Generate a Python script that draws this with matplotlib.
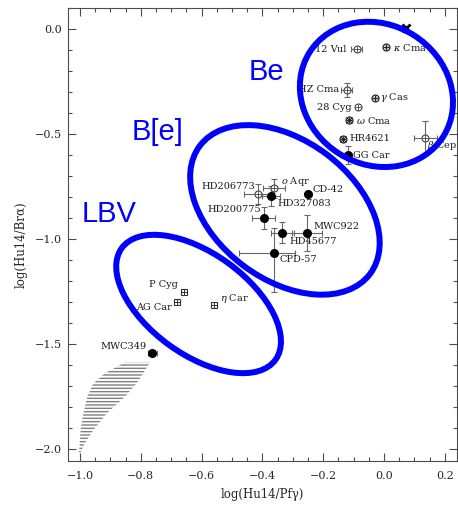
import matplotlib
matplotlib.use("Agg")
import matplotlib.pyplot as plt
from matplotlib.patches import Ellipse
from matplotlib.transforms import ScaledTranslation
from matplotlib.ticker import MultipleLocator

plt.rcParams["font.family"] = "DejaVu Serif"
plt.rcParams["mathtext.fontset"] = "dejavuserif"

# stars: log(Hu14/Pfg), log(Hu14/Bra)
names = ["12 Vul", r"$\kappa$ Cma", "HZ Cma", r"$\gamma$ Cas", "28 Cyg", r"$\omega$ Cma",
         "HR4621", r"$\beta$ Cep", "GG Car",
         r"$o$ Aqr", "HD206773", "HD327083", "CD-42", "HD200775", "HD45677", "MWC922", "CPD-57",
         "P Cyg", "AG Car", r"$\eta$ Car", "MWC349"]
symbol = ["open", "oplus", "open", "oplus", "open", "ostar", "ostar", "open", "dot",
          "open", "open", "dot", "dot", "dot", "dot", "dot", "dot",
          "box", "box", "box", "dot"]
x_val = [-0.090, 0.007, -0.123, -0.030, -0.087, -0.115, -0.134, 0.135, -0.117,
         -0.361, -0.416, -0.371, -0.251, -0.396, -0.335, -0.253, -0.362,
         -0.658, -0.682, -0.559, -0.762]
y_val = [-0.094, -0.086, -0.289, -0.326, -0.371, -0.432, -0.522, -0.516, -0.599,
         -0.757, -0.784, -0.794, -0.786, -0.897, -0.969, -0.971, -1.067,
         -1.250, -1.297, -1.313, -1.543]
xerr_lo = [0.018, 0, 0.019, 0, 0, 0, 0, 0.038, 0,
           0.036, 0.045, 0.030, 0, 0.039, 0.038, 0.049, 0.114,
           0, 0, 0, 0.016]
xerr_hi = [0.018, 0, 0.019, 0, 0, 0, 0, 0.038, 0,
           0.036, 0.045, 0.030, 0, 0.039, 0.038, 0.049, 0.069,
           0, 0, 0, 0.016]
yerr_lo = [0, 0, 0.033, 0, 0, 0, 0, 0.081, 0.043,
           0.044, 0.048, 0.049, 0, 0.052, 0.051, 0.087, 0.183,
           0, 0, 0, 0.010]
yerr_hi = [0, 0, 0.033, 0, 0, 0, 0, 0.081, 0.043,
           0.044, 0.048, 0.049, 0, 0.052, 0.051, 0.087, 0.119,
           0, 0, 0, 0.010]

# star hidden under the top of the Be ring
hidden_x = [0.072]
hidden_y = [0.005]

# hatched region (bottom left), left/right edges per row
hatch_y = [-1.586, -1.638, -1.686, -1.749, -1.829, -1.908, -1.971, -2.019]
hatch_left = [-0.852, -0.918, -0.956, -0.976, -0.989, -0.998, -1.001, -1.003]
hatch_right = [-0.770, -0.792, -0.814, -0.852, -0.912, -0.956, -0.984, -1.000]

# label offsets in pixels (dx, dy with y down) and alignment
label_pos = {
    "12 Vul": (-10, 0, "right"), r"$\kappa$ Cma": (7, 0, "left"),
    "HZ Cma": (-8, 0, "right"), r"$\gamma$ Cas": (5, 0, "left"),
    "28 Cyg": (-6, 0, "right"), r"$\omega$ Cma": (7, 0, "left"),
    "HR4621": (6, 0, "left"), r"$\beta$ Cep": (2, 8, "left"),
    "GG Car": (5, 0, "left"), r"$o$ Aqr": (7, -7, "left"),
    "HD206773": (-2, -7, "right"), "HD327083": (6, 7, "left"),
    "CD-42": (5, -5, "left"), "HD200775": (-3, -8, "right"),
    "HD45677": (7, 9, "left"), "MWC922": (6, -7, "left"),
    "CPD-57": (6, 6, "left"), "P Cyg": (-6, -7, "right"),
    "AG Car": (-5, 6, "right"), r"$\eta$ Car": (6, -7, "left"),
    "MWC349": (-6, -7, "right"),
}

fig = plt.figure(figsize=(4.58, 5.11), dpi=100)
ax = fig.add_axes([68 / 458, 1 - 461 / 511, (457 - 68) / 458, (461 - 8) / 511])
ax.set_xlim(-1.0395, 0.240)
ax.set_ylim(-2.0557, 0.1014)

ax.fill_betweenx(hatch_y, hatch_left, hatch_right, facecolor="none",
                 edgecolor="0.5", hatch="-----", linewidth=0)

for i, name in enumerate(names):
    xe = None if xerr_lo[i] == 0 else [[xerr_lo[i]], [xerr_hi[i]]]
    ye = None if yerr_lo[i] == 0 else [[yerr_lo[i]], [yerr_hi[i]]]
    if xe is not None or ye is not None:
        ax.errorbar(x_val[i], y_val[i], xerr=xe, yerr=ye, fmt="none", ecolor="0.4",
                    elinewidth=0.8, capsize=2, capthick=0.8, zorder=2)
    s = symbol[i]
    if s == "dot":
        ax.plot(x_val[i], y_val[i], "o", ms=5.5, color="black", zorder=3)
    elif s == "open":
        ax.plot(x_val[i], y_val[i], "o", ms=5, mfc="white", mec="0.25", mew=0.8, zorder=3)
        ax.plot(x_val[i], y_val[i], "+", ms=5, color="0.25", mew=0.6, zorder=3)
    elif s == "oplus":
        ax.plot(x_val[i], y_val[i], "o", ms=5, mfc="white", mec="0.15", mew=0.9, zorder=3)
        ax.plot(x_val[i], y_val[i], "+", ms=5, color="0.15", mew=1.0, zorder=3)
    elif s == "ostar":
        ax.plot(x_val[i], y_val[i], "o", ms=5, mfc="white", mec="0.15", mew=0.9, zorder=3)
        ax.plot(x_val[i], y_val[i], "x", ms=4, color="0.15", mew=0.8, zorder=3)
        ax.plot(x_val[i], y_val[i], "+", ms=5, color="0.15", mew=0.8, zorder=3)
    elif s == "box":
        ax.plot(x_val[i], y_val[i], "s", ms=4.5, mfc="white", mec="0.2", mew=0.8, zorder=3)
        ax.plot(x_val[i], y_val[i], "+", ms=4.5, color="0.2", mew=0.7, zorder=3)

    dx, dy, ha = label_pos[name]
    ax.annotate(name, (x_val[i], y_val[i]), xytext=(dx * 0.72, -dy * 0.72),
                textcoords="offset points", ha=ha, va="center", fontsize=7,
                color="0.1", annotation_clip=False, clip_on=True, zorder=2)

ax.plot(hidden_x, hidden_y, "x", ms=6, mew=2, color="black", zorder=3)

# class rings, sizes in pixels
def ring(cx, cy, w, h, ang):
    tr = ScaledTranslation(cx, cy, ax.transData)
    e = Ellipse((0, 0), w, h, angle=ang, transform=tr, fill=False,
                edgecolor="#0000ff", linewidth=4.3, zorder=5)
    ax.add_patch(e)

ring(-0.025, -0.310, 158, 140, -32)
ring(-0.326, -0.860, 213, 139, -37)
ring(-0.610, -1.308, 190, 101, -36)

blue = dict(color="#0000ff", fontsize=21, family="Liberation Sans", va="baseline", ha="left")
ax.text(-0.444, -0.241, "Be", **blue)
ax.text(-0.830, -0.527, "B[e]", **blue)
ax.text(-0.994, -0.916, "LBV", **blue)

ax.xaxis.set_major_locator(MultipleLocator(0.2))
ax.xaxis.set_minor_locator(MultipleLocator(0.05))
ax.yaxis.set_major_locator(MultipleLocator(0.5))
ax.yaxis.set_minor_locator(MultipleLocator(0.1))
ax.tick_params(which="both", direction="in", top=True, right=True, color="0.3",
               labelsize=8, labelcolor="0.15")
ax.tick_params(which="major", length=6, width=0.8)
ax.tick_params(which="minor", length=3, width=0.8)
ax.tick_params(axis="x", pad=7)
ax.tick_params(axis="y", pad=4)
for sp in ax.spines.values():
    sp.set_color("0.3")
    sp.set_linewidth(0.8)

ax.set_xlabel("log(Hu14/Pfγ)", fontsize=8.5, color="0.15")
ax.set_ylabel("log(Hu14/Brα)", fontsize=8.5, color="0.15")
ax.xaxis.set_label_coords(0.5, -0.06)
ax.yaxis.set_label_coords(-0.105, 0.477)

fig.savefig("out.png", dpi=100)
